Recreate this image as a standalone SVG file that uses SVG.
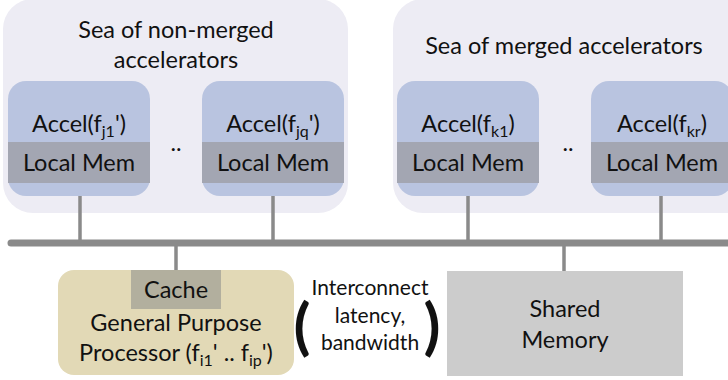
<svg xmlns="http://www.w3.org/2000/svg" width="728" height="380" viewBox="0 0 728 380">
<style>
text{font-family:Lato,"Open Sans","Liberation Sans",sans-serif;fill:#111;text-anchor:middle}
.t{font-size:23.5px}
.s{font-size:16px}
.i{font-size:21px}
.sea{fill:#EDECF4}
.acc{fill:#B9C4E0}
.mem{fill:#A3A6B2}
.ln{stroke:#8A8A8A;stroke-width:3.5;fill:none}
.par{font-size:62px;font-weight:bold}
</style>
<rect width="728" height="380" fill="#fff"/>
<g id="sea-nonmerged">
<rect class="sea" x="3" y="-1" width="345" height="214" rx="30"/>
<text class="t" x="176" y="38">Sea of non-merged</text>
<text class="t" x="176" y="68">accelerators</text>
</g>
<g id="sea-merged">
<rect class="sea" x="393" y="-1" width="370" height="214" rx="30"/>
<text class="t" x="564" y="54">Sea of merged accelerators</text>
</g>
<g id="connectors">
<line class="ln" x1="80" y1="195" x2="80" y2="243"/>
<line class="ln" x1="273" y1="195" x2="273" y2="243"/>
<line class="ln" x1="468" y1="195" x2="468" y2="243"/>
<line class="ln" x1="661" y1="195" x2="661" y2="243"/>
<line class="ln" x1="176" y1="243" x2="176" y2="271"/>
<line class="ln" x1="564" y1="243" x2="564" y2="272"/>
<line x1="11" y1="243" x2="740" y2="243" stroke="#8A8A8A" stroke-width="7" stroke-linecap="round"/>
</g>
<g id="accel-j1">
<rect class="acc" x="8" y="81" width="142" height="115" rx="18"/>
<rect class="mem" x="8" y="142" width="142" height="41"/>
<text class="t" x="79" y="132">Accel(f<tspan class="s" dy="5">j1</tspan><tspan dy="-5">')</tspan></text>
<text class="t" x="79" y="171">Local Mem</text>
</g>
<text id="dots-left" class="t" x="176" y="151">..</text>
<g id="accel-jq">
<rect class="acc" x="202" y="81" width="142" height="115" rx="18"/>
<rect class="mem" x="202" y="142" width="142" height="41"/>
<text class="t" x="273" y="132">Accel(f<tspan class="s" dy="5">jq</tspan><tspan dy="-5">')</tspan></text>
<text class="t" x="273" y="171">Local Mem</text>
</g>
<g id="accel-k1">
<rect class="acc" x="397" y="81" width="142" height="115" rx="18"/>
<rect class="mem" x="397" y="142" width="142" height="41"/>
<text class="t" x="468" y="132">Accel(f<tspan class="s" dy="5">k1</tspan><tspan dy="-5">)</tspan></text>
<text class="t" x="468" y="171">Local Mem</text>
</g>
<text id="dots-right" class="t" x="568" y="151">..</text>
<g id="accel-kr">
<rect class="acc" x="591" y="81" width="142" height="115" rx="18"/>
<rect class="mem" x="591" y="142" width="142" height="41"/>
<text class="t" x="662" y="132">Accel(f<tspan class="s" dy="5">kr</tspan><tspan dy="-5">)</tspan></text>
<text class="t" x="662" y="171">Local Mem</text>
</g>
<g id="gpp">
<rect x="58" y="270" width="236" height="105" rx="16" fill="#E2D9B6"/>
<rect x="131" y="270" width="90" height="39" fill="#B2AF9E"/>
<text class="t" x="176" y="298">Cache</text>
<text class="t" x="176" y="331">General Purpose</text>
<text class="t" x="176" y="361">Processor (f<tspan class="s" dy="5">i1</tspan><tspan dy="-5">' .. f</tspan><tspan class="s" dy="5">ip</tspan><tspan dy="-5">')</tspan></text>
</g>
<g id="interconnect">
<text class="i" x="370" y="295">Interconnect</text>
<text class="i" x="370" y="323">latency,</text>
<text class="i" x="370" y="350">bandwidth</text>
<text class="par" x="302" y="348">(</text>
<text class="par" x="432" y="348">)</text>
</g>
<g id="shared-memory">
<rect x="447" y="271" width="236" height="105" fill="#CCCCCC"/>
<text class="t" x="565" y="317">Shared</text>
<text class="t" x="565" y="348">Memory</text>
</g>
</svg>
